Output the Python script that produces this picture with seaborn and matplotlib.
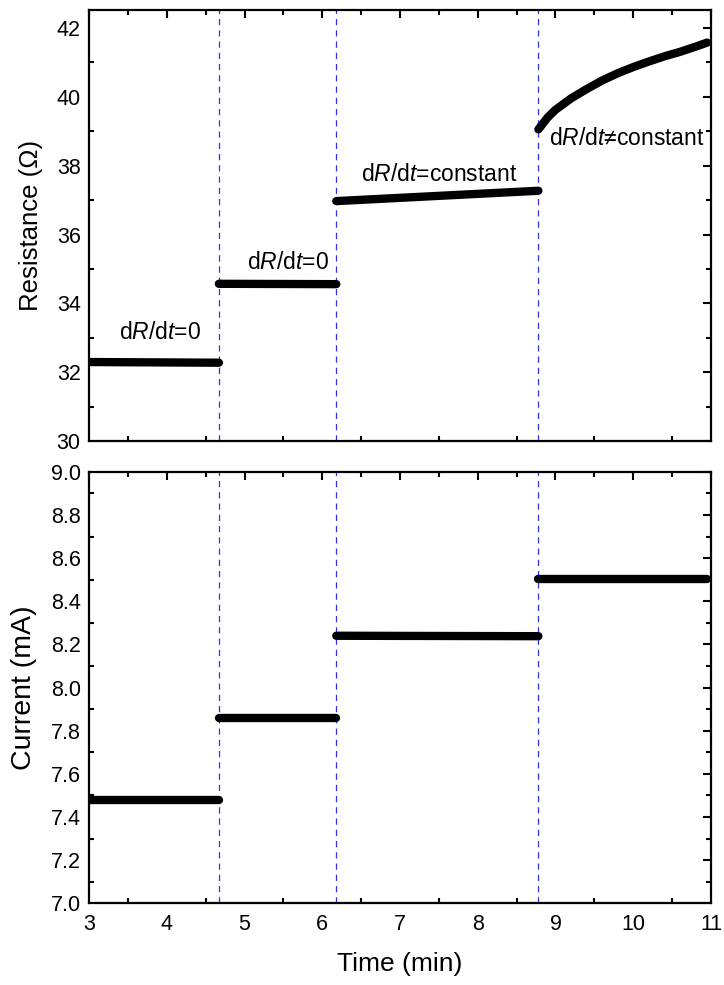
import matplotlib
matplotlib.use("Agg")
import matplotlib.pyplot as plt
from matplotlib.ticker import MultipleLocator, FormatStrFormatter
import seaborn as sns
import pandas as pd

sns.set_theme(style="white")
plt.rcParams['font.family'] = ['Liberation Sans', 'DejaVu Sans']
plt.rcParams['mathtext.fontset'] = 'custom'
plt.rcParams['mathtext.rm'] = 'Liberation Sans'
plt.rcParams['mathtext.it'] = 'Liberation Sans:italic'
plt.rcParams['text.color'] = 'black'
plt.rcParams['axes.labelcolor'] = 'black'
plt.rcParams['xtick.color'] = 'black'
plt.rcParams['ytick.color'] = 'black'

# Resistance segments (time, value)
res_seg1_t = [3.0, 4.67]
res_seg1_v = [32.30, 32.28]
res_seg2_t = [4.67, 6.18]
res_seg2_v = [34.57, 34.56]
res_seg3_t = [6.18, 8.78]
res_seg3_v = [36.97, 37.27]
res_seg4_t = [8.78, 8.9, 9.0, 9.2, 9.4, 9.6, 9.8, 10.0, 10.2, 10.4, 10.6, 10.8, 10.95]
res_seg4_v = [39.05, 39.40, 39.62, 39.95, 40.22, 40.47, 40.68, 40.86, 41.02, 41.17, 41.30, 41.45, 41.57]

# Current segments
cur_seg1_t = [3.0, 4.67]
cur_seg1_v = [7.48, 7.48]
cur_seg2_t = [4.67, 6.18]
cur_seg2_v = [7.86, 7.86]
cur_seg3_t = [6.18, 8.78]
cur_seg3_v = [8.24, 8.238]
cur_seg4_t = [8.78, 10.95]
cur_seg4_v = [8.505, 8.505]

vlines_x = [4.67, 6.18, 8.78]

labels_text = ["d$R$/d$t$=0", "d$R$/d$t$=0", "d$R$/d$t$=constant", "d$R$/d$t$\u2260constant"]
labels_x = [3.91, 5.56, 7.51, 9.92]
labels_y = [33.15, 35.2, 37.75, 38.8]

def build(ts, vs):
    rows = []
    for i, (t, v) in enumerate(zip(ts, vs)):
        for a, b in zip(t, v):
            rows.append({"t": a, "v": b, "seg": i})
    return pd.DataFrame(rows)

df_r = build([res_seg1_t, res_seg2_t, res_seg3_t, res_seg4_t],
             [res_seg1_v, res_seg2_v, res_seg3_v, res_seg4_v])
df_c = build([cur_seg1_t, cur_seg2_t, cur_seg3_t, cur_seg4_t],
             [cur_seg1_v, cur_seg2_v, cur_seg3_v, cur_seg4_v])

fig = plt.figure(figsize=(7.24, 9.85), dpi=100)
ax1 = fig.add_axes([0.123, 0.552, 0.859, 0.438])
ax2 = fig.add_axes([0.123, 0.083, 0.859, 0.438])

for ax, df in [(ax1, df_r), (ax2, df_c)]:
    for x in vlines_x:
        ax.axvline(x, color='#3030f0', lw=0.9, ls=(0, (5, 4)), zorder=1)
    sns.lineplot(data=df, x="t", y="v", units="seg", estimator=None, color='black',
                 lw=6, ax=ax, solid_capstyle='round', zorder=3, legend=False)
    ax.set_xlim(3, 11)
    ax.xaxis.set_major_locator(MultipleLocator(1))
    ax.xaxis.set_minor_locator(MultipleLocator(0.5))
    ax.tick_params(which='both', direction='in', top=True, right=True, width=1.5,
                   labelsize=15.5, colors='black')
    ax.tick_params(axis='x', pad=8)
    ax.tick_params(axis='y', pad=6)
    ax.tick_params(which='major', length=6)
    ax.tick_params(which='minor', length=3.5, bottom=True, left=True, top=True, right=True)
    for s in ax.spines.values():
        s.set_linewidth(1.6)
        s.set_color('black')

ax1.set_ylim(30, 42.52)
ax1.yaxis.set_major_locator(MultipleLocator(2))
ax1.yaxis.set_minor_locator(MultipleLocator(1))
ax1.set_xlabel("")
ax1.tick_params(labelbottom=False)
ax1.set_ylabel("Resistance (\u03a9)", fontsize=18.5, color='black')
ax1.yaxis.set_label_coords(-0.074, 0.5)

for tx, x, y in zip(labels_text, labels_x, labels_y):
    ax1.text(x, y, tx, fontsize=16.5, ha='center', va='center', color='black')

ax2.set_ylim(7.0, 9.0)
ax2.yaxis.set_major_locator(MultipleLocator(0.2))
ax2.yaxis.set_minor_locator(MultipleLocator(0.1))
ax2.yaxis.set_major_formatter(FormatStrFormatter('%.1f'))
ax2.set_xlabel("Time (min)", fontsize=19, color='black')
ax2.xaxis.set_label_coords(0.5, -0.112)
ax2.set_ylabel("Current (mA)", fontsize=20.5, color='black')
ax2.yaxis.set_label_coords(-0.084, 0.5)

fig.savefig("out.png", dpi=100)
